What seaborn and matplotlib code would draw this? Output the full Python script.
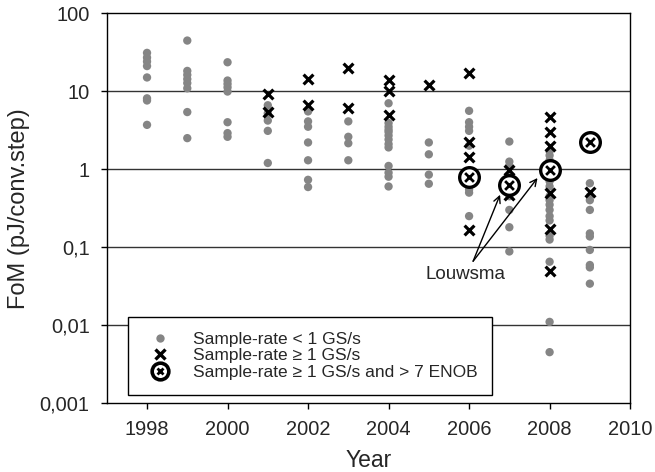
import matplotlib
matplotlib.use("Agg")
import matplotlib.pyplot as plt
from matplotlib.lines import Line2D
from matplotlib.ticker import FixedLocator, FuncFormatter, NullLocator
import numpy as np
import pandas as pd
import seaborn as sns

# FoM values (pJ/conv.step)
slow_years = ([1998] * 8 + [1999] * 8 + [2000] * 8 + [2001] * 5 + [2002] * 7
              + [2003] * 4 + [2004] * 13 + [2005] * 4 + [2006] * 9 + [2007] * 9
              + [2008] * 17 + [2009] * 10)
slow_fom = [31, 27, 24, 21, 15, 8.1, 7.6, 3.7,
            44.6, 18.2, 16.2, 14.3, 12.7, 10.9, 5.4, 2.5,
            23.5, 13.7, 12.4, 11.2, 9.9, 4.0, 2.9, 2.6,
            6.6, 5.2, 4.2, 3.1, 1.2,
            5.5, 4.1, 3.5, 2.2, 1.3, 0.73, 0.59,
            4.1, 2.6, 2.15, 1.3,
            7.0, 3.9, 3.5, 3.2, 3.0, 2.7, 2.4, 2.1, 1.9, 1.1, 0.9, 0.8, 0.6,
            2.2, 1.55, 0.85, 0.65,
            5.6, 4.0, 3.5, 3.1, 2.0, 0.7, 0.55, 0.5, 0.25,
            2.26, 1.25, 1.1, 0.8, 0.5, 0.45, 0.3, 0.18, 0.088,
            1.7, 1.5, 1.3, 1.2, 0.7, 0.6, 0.45, 0.4, 0.35, 0.3, 0.25, 0.22,
            0.14, 0.125, 0.065, 0.011, 0.0045,
            0.66, 0.45, 0.40, 0.30, 0.15, 0.137, 0.092, 0.059, 0.055, 0.034]

fast_years = ([2001] * 2 + [2002] * 2 + [2003] * 2 + [2004] * 3 + [2005]
              + [2006] * 4 + [2007] * 2 + [2008] * 6 + [2009])
fast_fom = [9.2, 5.4,
            14.3, 6.7,
            19.7, 6.05,
            14.0, 10.0, 5.0,
            12.0,
            17.0, 2.2, 1.45, 0.167,
            0.98, 0.47,
            4.7, 3.0, 2.0, 0.49, 0.17, 0.05,
            0.51]

enob_years = [2006, 2007, 2008, 2009]
enob_fom = [0.80, 0.63, 0.98, 2.26]

GREY = "#858585"

sns.set_theme(style="ticks")
plt.rcParams["font.family"] = ["Liberation Sans", "DejaVu Sans"]

slow = pd.DataFrame({"year": slow_years, "fom": slow_fom})
fast = pd.DataFrame({"year": fast_years, "fom": fast_fom})
enob = pd.DataFrame({"year": enob_years, "fom": enob_fom})

fig = plt.figure(figsize=(6.55, 4.72), dpi=100)
ax = fig.add_axes([0.163, 0.146, 0.799, 0.826])

for y in [0.01, 0.1, 1, 10]:
    ax.axhline(y, color="#333333", lw=1.0, zorder=1)

sns.scatterplot(data=slow, x="year", y="fom", color=GREY, s=36,
                edgecolor="none", ax=ax, zorder=3)
sns.scatterplot(data=fast, x="year", y="fom", color="black", marker="x",
                s=50, linewidth=2.3, ax=ax, zorder=4)
# circle with an x inside
sns.scatterplot(data=enob, x="year", y="fom", color="white", marker="o",
                s=200, edgecolor="black", linewidth=2.4, ax=ax, zorder=5)
sns.scatterplot(data=enob, x="year", y="fom", color="black", marker="x",
                s=40, linewidth=2.0, ax=ax, zorder=6)

ax.set_yscale("log")
ax.set_ylim(0.001, 100)
ax.set_xlim(1997, 2010)
ax.set_xticks(range(1998, 2011, 2))
ax.yaxis.set_major_locator(FixedLocator([0.001, 0.01, 0.1, 1, 10, 100]))
ax.yaxis.set_minor_locator(NullLocator())
ax.yaxis.set_major_formatter(FuncFormatter(lambda v, p: f"{v:g}".replace(".", ",")))
ax.tick_params(axis="both", labelsize=14.4, direction="out", length=4.3,
               width=1, color="black")
ax.tick_params(axis="y", pad=8)
ax.tick_params(axis="x", pad=8)

for sp in ax.spines.values():
    sp.set_color("black")
    sp.set_linewidth(1.0)

ax.set_xlabel("Year", fontsize=16.5, labelpad=7)
ax.set_ylabel("FoM (pJ/conv.step)", fontsize=17, labelpad=7)

# Louwsma callout
ax.text(2005.9, 0.044, "Louwsma", ha="center", va="center", fontsize=13.5)
for end in [(2006.77, 0.47), (2007.7, 0.77)]:
    ax.annotate("", xy=end, xytext=(2006.1, 0.066),
                arrowprops=dict(arrowstyle="->", color="black", lw=1.0,
                                shrinkA=0, shrinkB=0))

h_slow = Line2D([], [], ls="none", marker="o", color=GREY, ms=6,
                markeredgecolor="none")
h_fast = Line2D([], [], ls="none", marker="x", color="black", ms=7, mew=2.4)
h_circ = Line2D([], [], ls="none", marker="o", markerfacecolor="white",
                markeredgecolor="black", ms=12, mew=2.6)
h_x = Line2D([], [], ls="none", marker="x", color="black", ms=5, mew=2.0)
leg = ax.legend([h_slow, h_fast, (h_circ, h_x)],
                ["Sample-rate < 1 GS/s", "Sample-rate ≥ 1 GS/s",
                 "Sample-rate ≥ 1 GS/s and > 7 ENOB"],
                loc="lower left", bbox_to_anchor=(0.04, 0.022), fontsize=12.5,
                frameon=True, fancybox=False, framealpha=1,
                edgecolor="black", borderpad=0.85, labelspacing=0.08,
                handletextpad=0.9, handlelength=2.0, borderaxespad=0)
leg.get_frame().set_linewidth(1.0)
leg.set_zorder(10)

fig.savefig("out.png", dpi=100)
